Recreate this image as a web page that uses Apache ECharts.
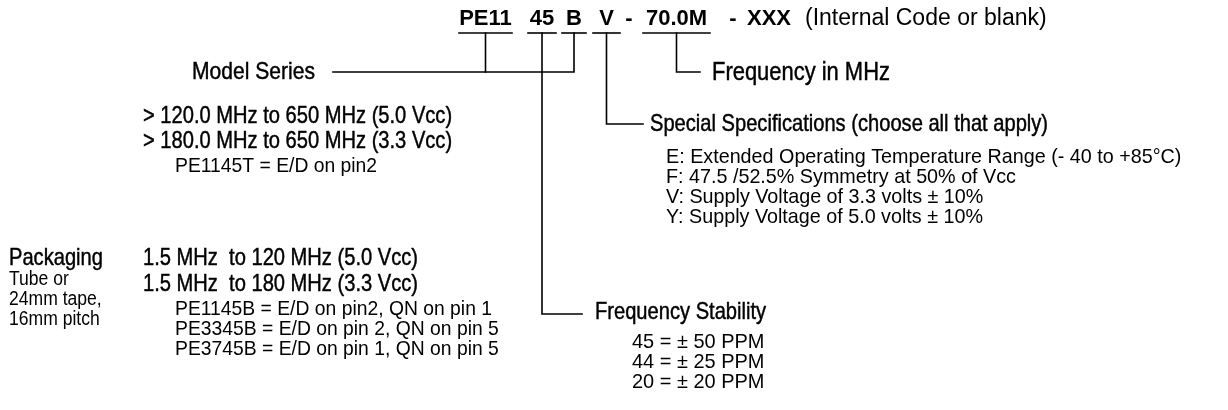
<!DOCTYPE html>
<html>
<head>
<meta charset="utf-8">
<title>PE11 part numbering</title>
<script src="https://cdn.jsdelivr.net/npm/echarts@6/dist/echarts.min.js"></script>
<style>
  html, body { margin: 0; background: #fff; }
  #chart { width: 1228px; height: 410px; }
</style>
</head>
<body>
<div id="chart"></div>
<script>
// part number fields, left to right
const partFields = ["PE11", "45", "B", "V", "-", "70.0M", "-", "XXX"];
const partNote = "(Internal Code or blank)";
const modelSeriesLabel = "Model Series";
const frequencyLabel = "Frequency in MHz";
const highRanges = ["> 120.0 MHz to 650 MHz (5.0 Vcc)", "> 180.0 MHz to 650 MHz (3.3 Vcc)"];
const highModels = ["PE1145T = E/D on pin2"];
const lowRanges = ["1.5 MHz  to 120 MHz (5.0 Vcc)", "1.5 MHz  to 180 MHz (3.3 Vcc)"];
const lowModels = [
  "PE1145B = E/D on pin2, QN on pin 1",
  "PE3345B = E/D on pin 2, QN on pin 5",
  "PE3745B = E/D on pin 1, QN on pin 5"
];
const specialTitle = "Special Specifications (choose all that apply)";
const specialOptions = [
  "E: Extended Operating Temperature Range (- 40 to +85°C)",
  "F: 47.5 /52.5% Symmetry at 50% of Vcc",
  "V: Supply Voltage of 3.3 volts ± 10%",
  "Y: Supply Voltage of 5.0 volts ± 10%"
];
const stabilityTitle = "Frequency Stability";
const stabilityOptions = ["45 = ± 50 PPM", "44 = ± 25 PPM", "20 = ± 20 PPM"];
const packagingTitle = "Packaging";
const packagingLines = ["Tube or", "24mm tape,", "16mm pitch"];

// layout, in page pixels (the hidden axes map 1:1 onto the canvas)
const W = 1228, H = 410;
const fieldSlots = [[459, 512], [528, 556], [562, 586], [593, 620], [622, 636], [643, 710], [726, 740], [748, 790]];
const underlined = [0, 1, 2, 3, 5];
const codeY = 19, ruleY = 33;
const mid = (i) => (fieldSlots[i][0] + fieldSlots[i][1]) / 2;

const arial = "'Liberation Sans', Arial, sans-serif";
const ink = "#000";
const NARROW = 0.86; // Liberation Sans squeezed to look like Arial Narrow

const stack = (list, x, y0, step) => list.map((t, i) => [t, x, y0 + i * step]);

// text drawn by a custom series so it goes through the axes like any other mark
function textSeries(items, style, scaleX) {
  return {
    type: "custom",
    coordinateSystem: "cartesian2d",
    silent: true,
    z: 5,
    data: items.map((it) => [it[1], it[2]]),
    renderItem: (params, api) => {
      const p = api.coord([api.value(0), api.value(1)]);
      return {
        type: "text",
        x: p[0],
        y: p[1],
        scaleX: scaleX || 1,
        style: Object.assign({
          text: items[params.dataIndex][0],
          fill: ink,
          fontFamily: arial,
          fontSize: 22,
          align: "left",
          verticalAlign: "middle"
        }, style)
      };
    }
  };
}

const medium = { stroke: ink, lineWidth: 0.45 };

const connectors = [
  underlined.map((i) => [[fieldSlots[i][0], ruleY], [fieldSlots[i][1], ruleY]]),
  [
    [[mid(0), ruleY], [mid(0), 72]],
    [[mid(2), ruleY], [mid(2), 72], [333, 72]],
    [[mid(1), ruleY], [mid(1), 314], [582, 314]],
    [[mid(3), ruleY], [mid(3), 124], [643, 124]],
    [[mid(5), ruleY], [mid(5), 72], [700, 72]]
  ]
].flat();

const chart = echarts.init(document.getElementById("chart"));
chart.setOption({
  animation: false,
  grid: { left: 0, right: 0, top: 0, bottom: 0 },
  xAxis: { type: "value", min: 0, max: W, show: false },
  yAxis: { type: "value", min: 0, max: H, inverse: true, show: false },
  series: [
    {
      type: "lines",
      coordinateSystem: "cartesian2d",
      polyline: true,
      silent: true,
      lineStyle: { color: ink, width: 1.6, opacity: 1, join: "miter", cap: "square" },
      data: connectors.map((c) => ({ coords: c }))
    },
    textSeries(partFields.map((t, i) => [t, mid(i), codeY]),
      { fontWeight: "bold", fontSize: 22, align: "center" }),
    textSeries([[partNote, 805, codeY]], { fontSize: 23 }),
    textSeries([[modelSeriesLabel, 192, 72]], Object.assign({ fontSize: 24.5 }, medium), NARROW),
    textSeries([[frequencyLabel, 712, 73]], Object.assign({ fontSize: 25.5 }, medium), NARROW),
    textSeries([
      [specialTitle, 650, 125],
      [stabilityTitle, 595, 313],
      [packagingTitle, 9, 259]
    ].concat(stack(highRanges, 143, 117, 25), stack(lowRanges, 143, 259, 26)),
      Object.assign({ fontSize: 23.4 }, medium), NARROW),
    textSeries([].concat(
      stack(highModels, 175, 166, 20),
      stack(lowModels, 175, 309, 20)
    ), { fontSize: 21 }, 0.92),
    textSeries(stack(specialOptions, 666, 157, 20), { fontSize: 21 }, 0.94),
    textSeries(stack(stabilityOptions, 632, 342, 20), { fontSize: 21 }, 0.95),
    textSeries(stack(packagingLines, 9, 280, 20), { fontSize: 19.5 }, 0.9)
  ]
});
</script>
</body>
</html>
